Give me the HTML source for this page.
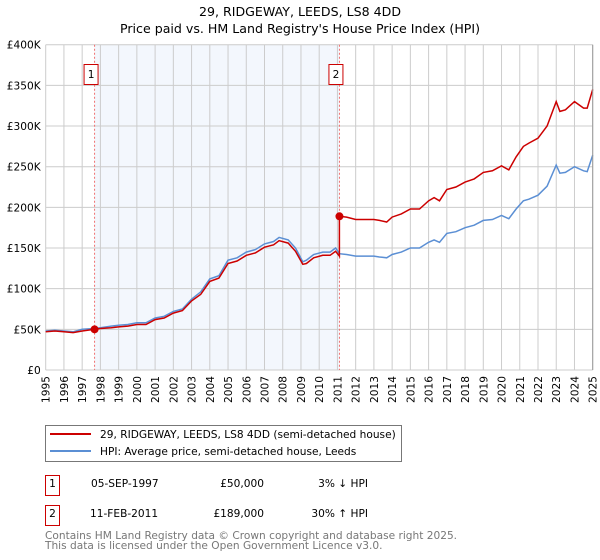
<!DOCTYPE html>
<html><head><meta charset="utf-8"><style>
body{margin:0;background:#fff;font-family:"DejaVu Sans","Liberation Sans",sans-serif}
svg{display:block}
</style></head><body>
<svg id="c" width="600" height="560" xmlns="http://www.w3.org/2000/svg" font-family="DejaVu Sans, Liberation Sans, sans-serif">
<text x="300" y="16" text-anchor="middle" font-size="12.6">29, RIDGEWAY, LEEDS, LS8 4DD</text>
<text x="300" y="33" text-anchor="middle" font-size="12.6">Price paid vs. HM Land Registry's House Price Index (HPI)</text>
<g id="grid"></g><g id="series"></g>
<g>
<rect x="45.5" y="425.5" width="356" height="36" fill="#fff" stroke="#777"/>
<line x1="50" y1="434" x2="91" y2="434" stroke="#cc0000" stroke-width="2"/>
<text x="100" y="438" font-size="10.6">29, RIDGEWAY, LEEDS, LS8 4DD (semi-detached house)</text>
<line x1="50" y1="451" x2="91" y2="451" stroke="#5b8fd4" stroke-width="2"/>
<text x="100" y="455" font-size="10.6">HPI: Average price, semi-detached house, Leeds</text>
</g>
<g font-size="10.6">
<rect x="45.5" y="475.5" width="14" height="20" fill="#fff" stroke="#cc0000"/>
<text x="52.5" y="487" text-anchor="middle">1</text>
<text x="91" y="487">05-SEP-1997</text>
<text x="264" y="487" text-anchor="end">£50,000</text>
<text x="368" y="487" text-anchor="end">3% ↓ HPI</text>
<rect x="45.5" y="505.5" width="14" height="20" fill="#fff" stroke="#cc0000"/>
<text x="52.5" y="517" text-anchor="middle">2</text>
<text x="90" y="517">11-FEB-2011</text>
<text x="264" y="517" text-anchor="end">£189,000</text>
<text x="368" y="517" text-anchor="end">30% ↑ HPI</text>
</g>
<text x="45" y="539" font-size="10.6" fill="#777">Contains HM Land Registry data © Crown copyright and database right 2025.</text>
<text x="45" y="549" font-size="10.6" fill="#777">This data is licensed under the Open Government Licence v3.0.</text>
</svg>
<script>
const yTicks=[0,50,100,150,200,250,300,350,400];
const yTickLabels=["£0","£50K","£100K","£150K","£200K","£250K","£300K","£350K","£400K"];
const xYears=[1995,1996,1997,1998,1999,2000,2001,2002,2003,2004,2005,2006,2007,2008,2009,2010,2011,2012,2013,2014,2015,2016,2017,2018,2019,2020,2021,2022,2023,2024,2025];
const saleDates=[1997.68,2011.11];
const salePrices=[50,189];
const saleLabels=["1","2"];
const dates=[1995,1995.5,1996,1996.5,1997,1997.68,1998,1998.6,1999,1999.5,2000,2000.5,2001,2001.5,2002,2002.5,2003,2003.5,2004,2004.5,2005,2005.5,2006,2006.5,2007,2007.5,2007.8,2008.3,2008.7,2009.1,2009.3,2009.7,2010.2,2010.6,2010.9,2011.11,2011.11,2011.5,2012,2012.5,2013,2013.3,2013.7,2014,2014.5,2015,2015.5,2016,2016.3,2016.6,2017,2017.5,2018,2018.5,2019,2019.5,2020,2020.4,2020.8,2021.2,2021.5,2022,2022.5,2023,2023.2,2023.5,2024,2024.5,2024.7,2025];
const hpiValues=[48,49,48,47,50,51,52,54,55,56,58,58,64,66,72,75,87,96,112,116,135,138,145,148,155,158,163,160,150,133,135,142,145,145,150,143,143,142,140,140,140,139,138,142,145,150,150,157,160,157,168,170,175,178,184,185,190,186,198,208,210,215,226,252,242,243,250,245,244,264];
const priceValues=[47,48,47,46,48,50,51,52,53,54,56,56,62,64,70,73,85,93,109,113,131,134,141,144,151,154,159,156,146,130,131,138,141,141,146,140,189,188,185,185,185,184,182,188,192,198,198,208,212,208,222,225,231,235,243,245,251,246,262,275,279,285,300,330,318,320,330,322,322,345];
const L=45.7,R=592.7,T=44.7,B=370;
const sx=y=>L+(y-1995)*(R-L)/30, sy=v=>B-v*(B-T)/400;
const NS="http://www.w3.org/2000/svg";
function mk(tag,at,parent){const e=document.createElementNS(NS,tag);for(const k in at)e.setAttribute(k,at[k]);parent.appendChild(e);return e;}
const g=document.getElementById('grid'),s=document.getElementById('series');
let shade=mk('rect',{x:sx(saleDates[0]),y:T,width:sx(saleDates[1])-sx(saleDates[0]),height:B-T,fill:'#eef3fc',opacity:0.7},g);


xYears.forEach(y=>{
 let l=mk('line',{x1:sx(y),x2:sx(y),y1:T,y2:B,stroke:'#ccc'},g);
 
 
 let t=mk('text',{x:0,y:0,'font-size':10.6,'text-anchor':'end',transform:`translate(${sx(y)+4},${B+6}) rotate(-90)`},g);
 t.textContent=y;
 
 
});
yTicks.forEach((v,i)=>{
 let l=mk('line',{x1:L,x2:R,y1:sy(v),y2:sy(v),stroke:'#ccc'},g);
 
 
 let t=mk('text',{x:L-5,y:sy(v)+4,'font-size':10.6,'text-anchor':'end'},g);
 t.textContent=yTickLabels[i];
 
 
});
saleDates.forEach((d,i)=>{
 let l=mk('line',{x1:sx(d),x2:sx(d),y1:T,y2:B,stroke:'#f07070','stroke-dasharray':'2,2'},g);
 
 
 let r=mk('rect',{x:sx(d)-10.5,y:64.5,width:14,height:20,fill:'#fff',stroke:'#cc0000'},g);
 
 
 let t=mk('text',{x:sx(d)-3.5,y:78,'font-size':10.6,'text-anchor':'middle'},g);
 t.textContent=saleLabels[i];
 
 
});
const path=arr=>arr.map((v,i)=>(i?'L':'M')+sx(dates[i]).toFixed(1)+','+sy(v).toFixed(1)).join('');
let hp=mk('path',{d:path(hpiValues),fill:'none',stroke:'#5b8fd4','stroke-width':1.5},s);


let pp=mk('path',{d:path(priceValues),fill:'none',stroke:'#cc0000','stroke-width':1.5},s);


saleDates.forEach((d,i)=>{
 let c=mk('circle',{cx:sx(d),cy:sy(salePrices[i]),r:4,fill:'#cc0000'},s);
 
 
});
let ax=mk('line',{x1:R,x2:R,y1:T,y2:B,stroke:'#999'},s);


</script>
</body></html>
